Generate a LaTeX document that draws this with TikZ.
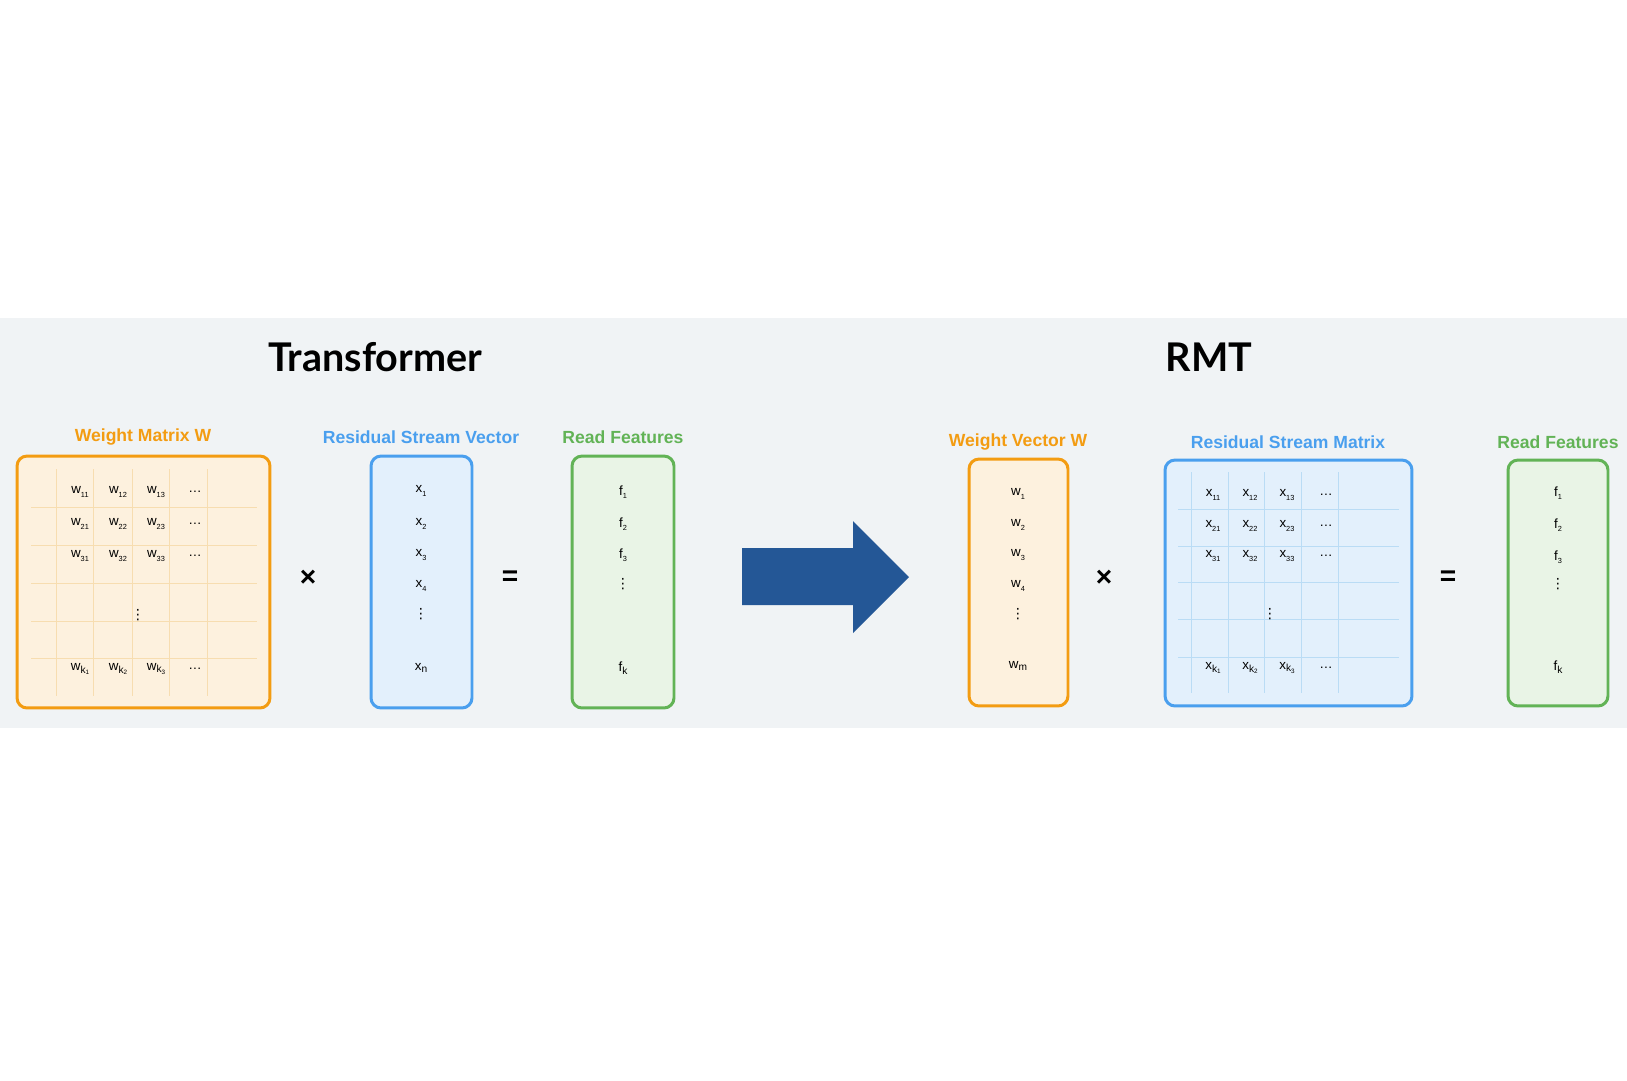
\documentclass[tikz,border=0pt]{standalone}
\usepackage{fontspec}
\setmainfont{Liberation Sans}
\newfontfamily\titlefont{Lato}
\newfontfamily\symfont{DejaVu Sans}
\usepackage{xcolor}
\usetikzlibrary{positioning}

\definecolor{band}{HTML}{F0F3F5}
\definecolor{orangeline}{HTML}{F39C12}
\definecolor{orangefill}{HTML}{FDF1DE}
\definecolor{orangegrid}{HTML}{F7DDB0}
\definecolor{blueline}{HTML}{4A9FEE}
\definecolor{bluefill}{HTML}{E3F0FC}
\definecolor{bluegrid}{HTML}{BADCF5}
\definecolor{greenline}{HTML}{62B356}
\definecolor{greenfill}{HTML}{E9F4E6}
\definecolor{arrowblue}{HTML}{245796}

\newcommand{\sbs}[2]{#1\raisebox{-0.5ex}{\fontsize{4.2}{4.2}\selectfont #2}}
\newcommand{\lsb}[2]{#1\raisebox{-0.4ex}{\fontsize{5.8}{6}\selectfont #2}}
\newcommand{\ksb}[2]{#1\raisebox{-0.4ex}{\fontsize{5.8}{6}\selectfont k\raisebox{-0.35ex}{\fontsize{3.6}{4}\selectfont #2}}}
\newcommand{\cvdots}{{\symfont\fontsize{8}{8}\selectfont ⋮}}

\tikzset{
  box/.style={draw,rounded corners=0.2cm,line width=1.7pt,inner sep=0pt},
  obox/.style={box,draw=orangeline,fill=orangefill},
  bbox/.style={box,draw=blueline,fill=bluefill},
  gbox/.style={box,draw=greenline,fill=greenfill},
  cell/.style={font=\fontsize{7.6}{8}\selectfont,inner sep=0pt},
  head/.style={font=\fontsize{10}{12}\selectfont\bfseries},
  title/.style={font=\titlefont\fontsize{22.5}{26}\selectfont\bfseries},
  op/.style={font=\fontsize{16}{18}\selectfont\bfseries},
}

\begin{document}
\begin{tikzpicture}[x=0.02cm,y=-0.02cm]
   \useasboundingbox (0,0) rectangle (1627,1080);
   \fill[band] (0,318) rectangle (1627,728);

   \draw (375,357) node[title] (transformer) {Transformer};
   \draw (1209,357) node[title] (rmt) {RMT};

   % Transformer side
   \draw (143.5,582) node[obox,minimum width=5.06cm,minimum height=5.04cm] (wmatrix) {};
   \draw (421.5,582) node[bbox,minimum width=2.02cm,minimum height=5.04cm] (rsvector) {};
   \draw (623,582) node[gbox,minimum width=2.04cm,minimum height=5.04cm] (features) {};
   \draw (143,437) node[head,text=orangeline] (wmatrixlabel) {Weight Matrix W};
   \draw (421,437) node[head,text=blueline] (rsvectorlabel) {Residual Stream Vector};
   \draw (623,437) node[head,text=greenline] (featureslabel) {Read Features};

   \foreach \gx in {56,93,132,169,207} \draw[orangegrid,line width=0.5pt] (\gx,469) -- (\gx,696);
   \foreach \gy in {507,545,583,621,658} \draw[orangegrid,line width=0.5pt] (31,\gy) -- (257,\gy);

     \draw (80,492) node[cell] (w11) {\sbs{w}{11}};
     \draw (118,492) node[cell] (w12) {\sbs{w}{12}};
     \draw (156,492) node[cell] (w13) {\sbs{w}{13}};
     \draw (195,492) node[cell] (w1dots) {\dots};
     \draw (80,524) node[cell] (w21) {\sbs{w}{21}};
     \draw (118,524) node[cell] (w22) {\sbs{w}{22}};
     \draw (156,524) node[cell] (w23) {\sbs{w}{23}};
     \draw (195,524) node[cell] (w2dots) {\dots};
     \draw (80,556) node[cell] (w31) {\sbs{w}{31}};
     \draw (118,556) node[cell] (w32) {\sbs{w}{32}};
     \draw (156,556) node[cell] (w33) {\sbs{w}{33}};
     \draw (195,556) node[cell] (w3dots) {\dots};
     \draw (138,615) node[cell] (wvdots) {\cvdots};
     \draw (80,669) node[cell] (wk1) {\ksb{w}{1}};
     \draw (118,669) node[cell] (wk2) {\ksb{w}{2}};
     \draw (156,669) node[cell] (wk3) {\ksb{w}{3}};
     \draw (195,669) node[cell] (wkdots) {\dots};

   \draw (308,578) node[op] (times) {×};

     \draw (421,491) node[cell] (x1) {\sbs{x}{1}};
     \draw (421,524) node[cell] (x2) {\sbs{x}{2}};
     \draw (421,555) node[cell] (x3) {\sbs{x}{3}};
     \draw (421,586) node[cell] (x4) {\sbs{x}{4}};
     \draw (421,614) node[cell] (xvdots) {\cvdots};
     \draw (421,668) node[cell] (xn) {\lsb{x}{n}};

   \draw (510,578) node[op] (equals) {=};

     \draw (623,492) node[cell] (f1) {\sbs{f}{1}};
     \draw (623,524) node[cell] (f2) {\sbs{f}{2}};
     \draw (623,555) node[cell] (f3) {\sbs{f}{3}};
     \draw (623,584) node[cell] (fvdots) {\cvdots};
     \draw (623,668) node[cell] (fk) {\lsb{f}{k}};

   \fill[arrowblue] (742,548) -- (853,548) -- (853,521) -- (909,577) -- (853,633) -- (853,605) -- (742,605) -- cycle;

   % RMT side
   \draw (1018.5,582.5) node[obox,minimum width=1.98cm,minimum height=4.94cm] (wvector) {};
   \draw (1288.5,583) node[bbox,minimum width=4.94cm,minimum height=4.92cm] (rsmatrix) {};
   \draw (1558,583) node[gbox,minimum width=2.0cm,minimum height=4.92cm] (rmtfeatures) {};
   \draw (1018,442) node[head,text=orangeline] (wvectorlabel) {Weight Vector W};
   \draw (1288,442) node[head,text=blueline] (rsmatrixlabel) {Residual Stream Matrix};
   \draw (1558,442) node[head,text=greenline] (rmtfeatureslabel) {Read Features};

     \draw (1018,494) node[cell] (rw1) {\sbs{w}{1}};
     \draw (1018,525) node[cell] (rw2) {\sbs{w}{2}};
     \draw (1018,555) node[cell] (rw3) {\sbs{w}{3}};
     \draw (1018,586) node[cell] (rw4) {\sbs{w}{4}};
     \draw (1018,614) node[cell] (rwvdots) {\cvdots};
     \draw (1018,666) node[cell] (rwm) {\lsb{w}{m}};

   \draw (1104,578) node[op] (rtimes) {×};

   \foreach \gx in {1191,1228,1264,1301,1338} \draw[bluegrid,line width=0.5pt] (\gx,472) -- (\gx,693);
   \foreach \gy in {509,546,582,619,657} \draw[bluegrid,line width=0.5pt] (1178,\gy) -- (1399,\gy);

     \draw (1213,495) node[cell] (x11) {\sbs{x}{11}};
     \draw (1250,495) node[cell] (x12) {\sbs{x}{12}};
     \draw (1287,495) node[cell] (x13) {\sbs{x}{13}};
     \draw (1326,495) node[cell] (x1dots) {\dots};
     \draw (1213,526) node[cell] (x21) {\sbs{x}{21}};
     \draw (1250,526) node[cell] (x22) {\sbs{x}{22}};
     \draw (1287,526) node[cell] (x23) {\sbs{x}{23}};
     \draw (1326,526) node[cell] (x2dots) {\dots};
     \draw (1213,556) node[cell] (x31) {\sbs{x}{31}};
     \draw (1250,556) node[cell] (x32) {\sbs{x}{32}};
     \draw (1287,556) node[cell] (x33) {\sbs{x}{33}};
     \draw (1326,556) node[cell] (x3dots) {\dots};
     \draw (1270,614) node[cell] (xmvdots) {\cvdots};
     \draw (1213,668) node[cell] (xk1) {\ksb{x}{1}};
     \draw (1250,668) node[cell] (xk2) {\ksb{x}{2}};
     \draw (1287,668) node[cell] (xk3) {\ksb{x}{3}};
     \draw (1326,668) node[cell] (xkdots) {\dots};

   \draw (1448,578) node[op] (requals) {=};

     \draw (1558,493) node[cell] (rf1) {\sbs{f}{1}};
     \draw (1558,525) node[cell] (rf2) {\sbs{f}{2}};
     \draw (1558,557) node[cell] (rf3) {\sbs{f}{3}};
     \draw (1558,584) node[cell] (rfvdots) {\cvdots};
     \draw (1558,667) node[cell] (rfk) {\lsb{f}{k}};

\end{tikzpicture}
\end{document}
